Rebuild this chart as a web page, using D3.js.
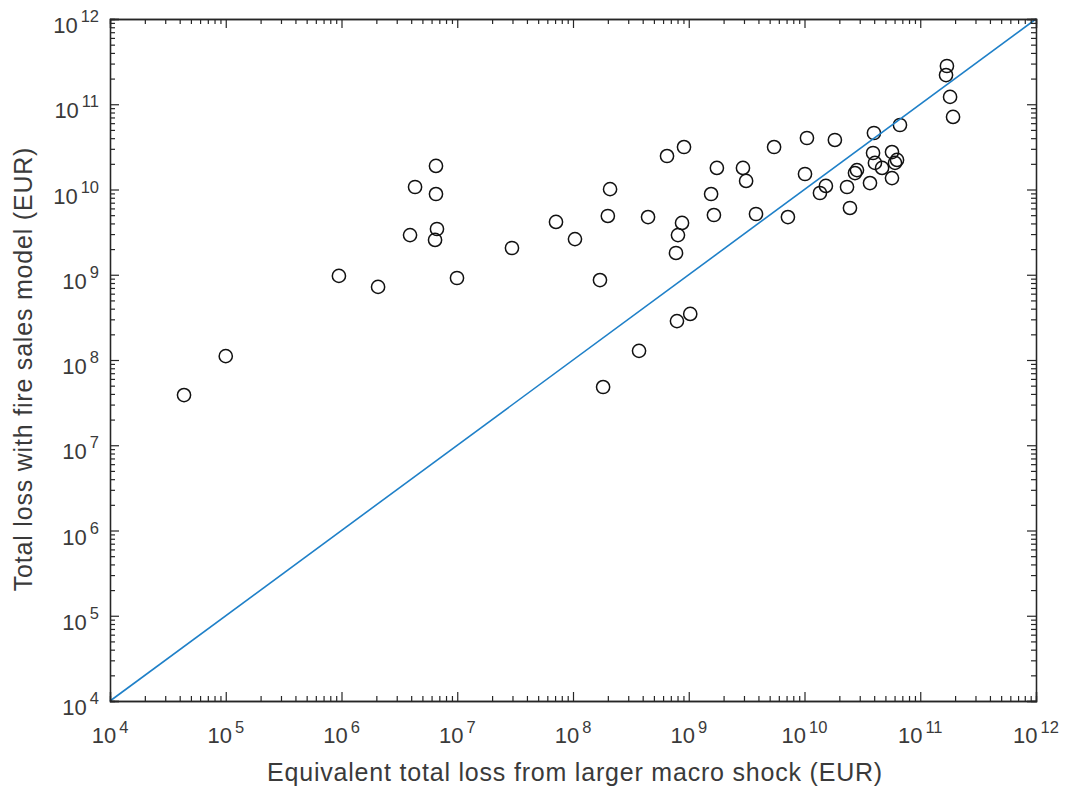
<!DOCTYPE html>
<html>
<head>
<meta charset="utf-8">
<script src="https://cdn.jsdelivr.net/npm/d3@7"></script>
<style>
  body { margin: 0; background: #fff; }
  text { font-family: Arial, "Liberation Sans", sans-serif; fill: #262626; }
</style>
</head>
<body>
<script>
// Equivalent total loss from larger macro shock (EUR)
const macroLoss = [
  4.36e4, 1.00e5, 9.5e5, 2.07e6, 3.91e6, 4.32e6, 6.55e6, 6.55e6, 6.68e6, 6.43e6,
  9.95e6, 2.97e7, 7.13e7, 1.04e8, 1.71e8, 1.82e8, 2.09e8, 2.00e8, 3.72e8, 4.45e8,
  6.49e8, 9.10e8, 8.75e8, 8.07e8, 7.76e8, 7.91e8, 1.03e9, 1.56e9, 1.65e9, 1.75e9,
  2.94e9, 3.13e9, 3.81e9, 5.46e9, 7.19e9, 1.01e10, 1.05e10, 1.36e10, 1.53e10, 1.83e10,
  2.33e10, 2.47e10, 2.73e10, 2.84e10, 3.68e10, 3.91e10, 3.98e10, 4.06e10, 4.68e10, 5.70e10,
  5.70e10, 6.30e10, 6.05e10, 6.68e10, 1.70e11, 1.67e11, 1.81e11, 1.92e11
];
// Total loss with fire sales model (EUR)
const fireLoss = [
  3.88e7, 1.11e8, 9.7e8, 7.2e8, 2.92e9, 1.07e10, 1.89e10, 8.85e9, 3.44e9, 2.56e9,
  9.16e8, 2.06e9, 4.16e9, 2.62e9, 8.67e8, 4.82e7, 1.01e10, 4.89e9, 1.28e8, 4.75e9,
  2.47e10, 3.15e10, 4.05e9, 2.92e9, 1.80e9, 2.86e8, 3.47e8, 8.85e9, 5.02e9, 1.79e10,
  1.79e10, 1.26e10, 5.16e9, 3.15e10, 4.75e9, 1.52e10, 4.02e10, 9.10e9, 1.10e10, 3.81e10,
  1.07e10, 6.07e9, 1.56e10, 1.69e10, 1.19e10, 2.68e10, 4.60e10, 2.05e10, 1.79e10, 1.36e10,
  2.75e10, 2.22e10, 2.05e10, 5.71e10, 2.81e11, 2.20e11, 1.22e11, 7.10e10
];
// diagonal reference line y = x
const diagLine = [1e4, 1e12];
// decade exponents for the tick labels
const exponents = [4, 5, 6, 7, 8, 9, 10, 11, 12];

const margin = { top: 19, right: 29, bottom: 87, left: 110 },
      width = 1065 - margin.left - margin.right,
      height = 788 - margin.top - margin.bottom;

const svg = d3.select("body").append("svg")
    .attr("width", 1065)
    .attr("height", 788);

const g = svg.append("g")
    .attr("transform", "translate(" + margin.left + "," + margin.top + ")");

const x = d3.scaleLog().domain([1e4, 1e12]).range([0, width]);
const y = d3.scaleLog().domain([1e4, 1e12]).range([height, 0]);

// major and minor tick values
const majors = exponents.map(e => Math.pow(10, e));
const minors = [];
exponents.slice(0, -1).forEach(e => {
  for (let k = 2; k <= 9; k++) minors.push(k * Math.pow(10, e));
});

// scatter points
const points = macroLoss.map((v, i) => ({ x: v, y: fireLoss[i] }));
g.selectAll("circle.pt")
  .data(points)
  .enter().append("circle")
    .attr("class", "pt")
    .attr("cx", d => x(d.x))
    .attr("cy", d => y(d.y))
    .attr("r", 6.6)
    .attr("fill", "none")
    .attr("stroke", "#111")
    .attr("stroke-width", 1.5);

// y = x line
g.append("path")
  .datum(diagLine)
  .attr("fill", "none")
  .attr("stroke", "#1f80c8")
  .attr("stroke-width", 1.6)
  .attr("d", d3.line().x(d => x(d)).y(d => y(d)));

// axes with inward ticks on all four sides (box on)
function axisGroup(axisFn, scale, transform) {
  const ax = g.append("g").attr("transform", transform || null);
  ax.append("g").call(axisFn(scale).tickValues(minors).tickSize(-5).tickFormat(""));
  ax.append("g").call(axisFn(scale).tickValues(majors).tickSize(-9).tickFormat(""));
  ax.selectAll("path.domain").attr("stroke", "#262626").attr("stroke-width", 1.3);
  ax.selectAll(".tick line").attr("stroke", "#262626").attr("stroke-width", 1.2);
}
axisGroup(d3.axisBottom, x, "translate(0," + height + ")");
axisGroup(d3.axisTop, x);
axisGroup(d3.axisLeft, y);
axisGroup(d3.axisRight, y, "translate(" + width + ",0)");

// tick labels: 10 with superscript exponent
exponents.forEach(e => {
  const v = Math.pow(10, e);
  // x axis
  const tx = g.append("text")
    .attr("x", x(v))
    .attr("y", height + 42)
    .attr("text-anchor", "middle")
    .style("font-size", "22px")
    .style("fill", "#3a3a3a");
  tx.append("tspan").text("10");
  tx.append("tspan").attr("dx", 3).attr("dy", -10).style("font-size", "16.5px").text(e);

  // y axis
  const ty = g.append("text")
    .attr("x", -11)
    .attr("y", y(v) + 14)
    .attr("text-anchor", "end")
    .style("font-size", "22px")
    .style("fill", "#3a3a3a");
  ty.append("tspan").text("10");
  ty.append("tspan").attr("dx", 3).attr("dy", -11).style("font-size", "16.5px").text(e);
});

// axis titles
g.append("text")
  .attr("x", width / 2 + 2)
  .attr("y", height + 80)
  .attr("text-anchor", "middle")
  .style("font-size", "25px")
  .style("letter-spacing", "0.8px")
  .style("fill", "#3a3a3a")
  .text("Equivalent total loss from larger macro shock (EUR)");

g.append("text")
  .attr("transform", "rotate(-90)")
  .attr("x", -height / 2 - 9)
  .attr("y", -78)
  .attr("text-anchor", "middle")
  .style("font-size", "25px")
  .style("letter-spacing", "0.8px")
  .style("fill", "#3a3a3a")
  .text("Total loss with fire sales model (EUR)");
</script>
</body>
</html>
